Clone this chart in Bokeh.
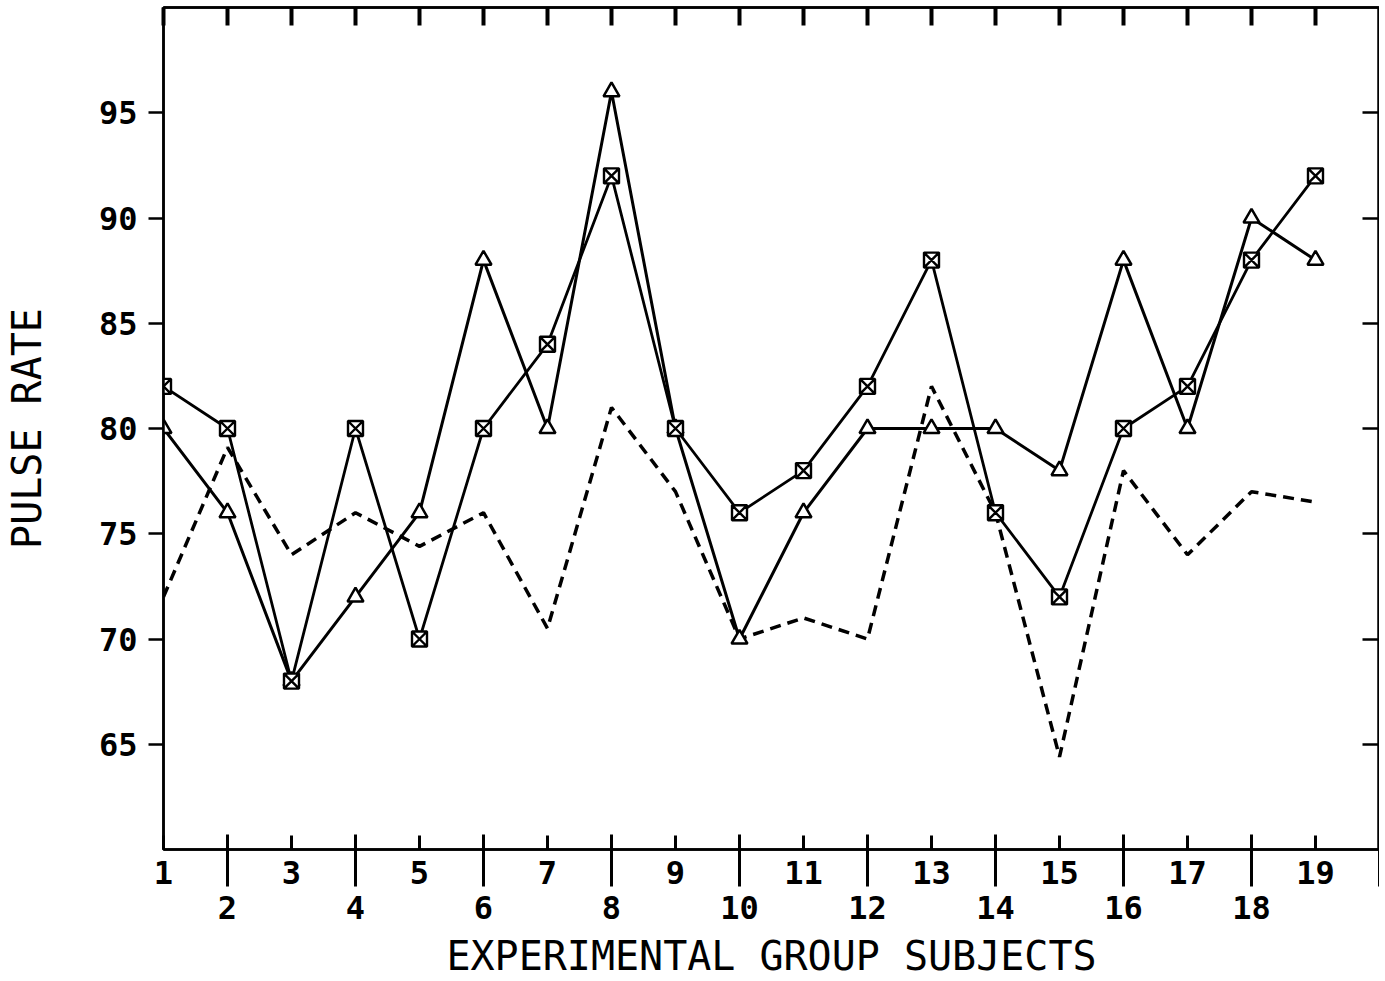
from bokeh.plotting import figure
from bokeh.models import LinearAxis, FixedTicker, Range1d
from bokeh.embed import file_html
from bokeh.resources import INLINE

subjects = list(range(1, 20))
square_series = [82, 80, 68, 80, 70, 80, 84, 92, 80, 76, 78, 82, 88, 76, 72, 80, 82, 88, 92]
triangle_series = [80, 76, 68, 72, 76, 88, 80, 96, 80, 70, 76, 80, 80, 80, 78, 88, 80, 90, 88]
dashed_series = [72, 79.1, 74, 76, 74.4, 76, 70.5, 81, 77, 70, 71, 70, 82, 76, 64.4, 78, 74, 77, 76.5]

y_ticks = [65, 70, 75, 80, 85, 90, 95]
odd_ticks = [1, 3, 5, 7, 9, 11, 13, 15, 17, 19]
even_ticks = [2, 4, 6, 8, 10, 12, 14, 16, 18, 20]
all_ticks = list(range(1, 20))

FONT = "DejaVu Sans Mono"

p = figure(width=1379, height=981, x_range=Range1d(1, 20), y_range=Range1d(60, 100),
           output_backend="svg", toolbar_location=None,
           x_axis_location=None, y_axis_location=None,
           min_border_left=0, min_border_right=0, min_border_top=7, min_border_bottom=0)
p.grid.grid_line_color = None
p.outline_line_color = "black"
p.outline_line_width = 2.5
p.background_fill_color = "white"
p.border_fill_color = "white"


def base(ax):
    ax.minor_tick_line_color = None
    ax.minor_tick_out = 0
    ax.minor_tick_in = 0
    ax.major_label_text_color = "black"
    ax.axis_label_text_color = "black"
    ax.major_label_text_font = FONT
    ax.major_label_text_font_style = "bold"
    ax.axis_label_text_font = FONT
    ax.axis_label_text_font_style = "normal"


# left axis
yl = LinearAxis(ticker=FixedTicker(ticks=y_ticks), axis_label="PULSE RATE")
base(yl)
yl.major_tick_out = 15
yl.major_tick_in = 0
yl.major_tick_line_width = 2.5
yl.axis_line_width = 2.5
yl.major_label_text_font_size = "32px"
yl.major_label_standoff = 11
yl.axis_label_text_font_size = "40px"
yl.axis_label_standoff = 46
p.add_layout(yl, "left")

# right axis (ticks only, inward)
yr = LinearAxis(ticker=FixedTicker(ticks=y_ticks))
base(yr)
yr.major_tick_out = 0
yr.major_tick_in = 17
yr.major_tick_line_width = 2.5
yr.axis_line_width = 2.5
yr.major_label_overrides = {t: "" for t in y_ticks}
yr.major_label_text_font_size = "0px"
yr.major_label_standoff = 0
p.add_layout(yr, "right")

# top axis (ticks only, inward)
xt = LinearAxis(ticker=FixedTicker(ticks=all_ticks))
base(xt)
xt.major_tick_out = 0
xt.major_tick_in = 18
xt.major_tick_line_width = 4
xt.axis_line_width = 2.5
xt.major_label_overrides = {t: "" for t in all_ticks}
xt.major_label_text_font_size = "0px"
xt.major_label_standoff = 0
p.add_layout(xt, "above")

# bottom axis 1: odd subjects
xb1 = LinearAxis(ticker=FixedTicker(ticks=odd_ticks))
base(xb1)
xb1.major_tick_out = 0
xb1.major_tick_in = 14
xb1.major_tick_line_width = 3
xb1.axis_line_width = 2.5
xb1.major_label_text_font_size = "32px"
xb1.major_label_standoff = 11
p.add_layout(xb1, "below")

# bottom axis 2: even subjects
xb2 = LinearAxis(ticker=FixedTicker(ticks=even_ticks), axis_label="EXPERIMENTAL GROUP SUBJECTS")
base(xb2)
xb2.major_tick_out = 0
xb2.major_tick_in = 52
xb2.major_tick_line_width = 3
xb2.axis_line_color = None
xb2.major_label_overrides = {20: ""}
xb2.major_label_text_font_size = "32px"
xb2.major_label_standoff = 9
xb2.axis_label_text_font_size = "40px"
xb2.axis_label_standoff = 11
p.add_layout(xb2, "below")

# series
p.line(subjects, dashed_series, line_color="black", line_width=3.5, line_dash="11 7")
p.line(subjects, triangle_series, line_color="black", line_width=3)
p.line(subjects, square_series, line_color="black", line_width=2.8)
p.scatter(subjects, triangle_series, marker="triangle", size=16, line_color="black",
          line_width=2.5, fill_color="white")
p.scatter(subjects, square_series, marker="square_x", size=15, line_color="black",
          line_width=2.4, fill_color="white")

open("out.html", "w").write(file_html(p, INLINE))
